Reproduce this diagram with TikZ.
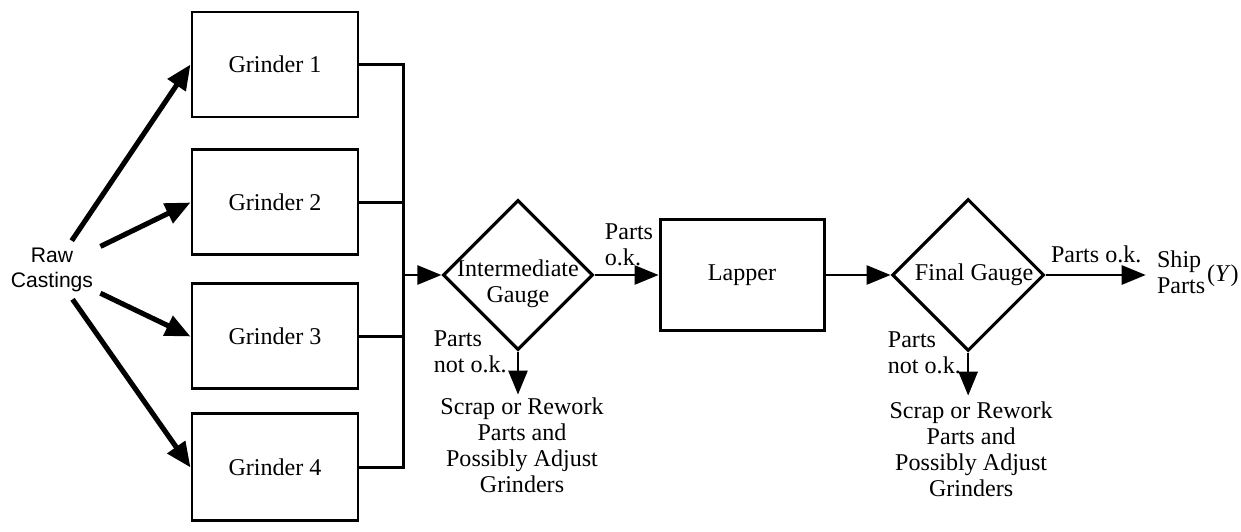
\documentclass[tikz,border=0pt]{standalone}
\usepackage{fontspec}
\setmainfont{Liberation Serif}
\newfontfamily\rawfont{Liberation Sans}
\usepackage{tikz}
\usetikzlibrary{shapes.geometric, arrows.meta, positioning}
\tikzstyle{arrow} = [line width=1.5pt, -{Triangle[length=0.48cm, width=0.38cm]}]
\tikzstyle{feed} = [line width=2.9pt, -{Triangle[length=0.5cm, width=0.42cm]}]
\tikzstyle{bus} = [line width=1.5pt]
\tikzstyle{grinder} = [rectangle, draw=black, line width=1.7pt, minimum width=3.32cm, minimum height=2.1cm]
\tikzstyle{gauge} = [diamond, draw=black, line width=1.8pt, inner sep=0pt, minimum width=3cm, minimum height=3cm]
\tikzstyle{note} = [inner sep=0pt, align=left]

\begin{document}
\begin{tikzpicture}[font=\fontsize{13.7}{14.8}\selectfont]
    \useasboundingbox (0,0) rectangle (24.82,-10.62);
    % Grinders
    \node[grinder] (g1) at (5.5,-1.29) {Grinder 1};
    \node[grinder, below=0.6cm of g1] (g2) {Grinder 2};
    \node[grinder, below=0.52cm of g2] (g3) {Grinder 3};
    \node[grinder, below=0.44cm of g3, minimum height=2.14cm] (g4) {Grinder 4};
    
    % Raw material
    \node[align=center, inner sep=4pt, font=\rawfont\fontsize{12}{14.2}\selectfont] (raw) at (1.04,-5.4) {Raw\\Castings};
    \foreach \g in {g1, g2, g3, g4}
        \draw[feed] (raw) -- (\g.west);
    
    % Gauges and lapper
    \node[gauge, label={[align=center, yshift=-0.18cm]center:Intermediate\\Gauge}] (igauge) at (10.36,-5.5) {};
    \node[grinder, minimum width=3.28cm, minimum height=2.22cm, right=1.28cm of igauge] (lapper) {Lapper};
    \node[gauge, minimum width=3.04cm, minimum height=3.04cm, right=1.3cm of lapper, label={[xshift=0.12cm]center:Final Gauge}] (fgauge) {};
    
    % Collecting line
    \coordinate[left=0.76cm of igauge.west] (join);
    \foreach \g in {g1, g2, g3, g4}
        \draw[bus] (\g.east) -| (join);
    \draw[arrow] (join) -- (igauge.west);
    
    \draw[arrow] (igauge.east) -- (lapper.west);
    \node[note, above right=0.18cm and 0.2cm of igauge.east] (iok) {Parts\\o.k.};
    \draw[arrow] (lapper.east) -- (fgauge.west);
    
    % Rejects
    \coordinate[below=0.86cm of igauge.south] (iend);
    \draw[arrow] (igauge.south) -- (iend);
    \node[note, left=0.22cm of igauge.south] (inot) {Parts\\not o.k.};
    \node[inner sep=0pt, align=center, below=0.06cm of iend, xshift=0.08cm] (iscrap) {Scrap or Rework\\Parts and\\Possibly Adjust\\Grinders};
    
    \coordinate[below=0.86cm of fgauge.south] (fend);
    \draw[arrow] (fgauge.south) -- (fend);
    \node[note, left=0.14cm of fgauge.south] (fnot) {Parts\\not o.k.};
    \node[inner sep=0pt, align=center, below=0.12cm of fend, xshift=0.06cm] (fscrap) {Scrap or Rework\\Parts and\\Possibly Adjust\\Grinders};
    
    % Shipping
    \coordinate[right=2cm of fgauge.east] (shipend);
    \draw[arrow] (fgauge.east) -- (shipend);
    \node[note, above right=0.24cm and 0.1cm of fgauge.east] (fok) {Parts o.k.};
    \node[inner sep=0pt, right=0.22cm of shipend] (ship) {\begin{tabular}{@{}l@{}}Ship\\Parts\end{tabular}\kern1pt(\textit{Y})};
\end{tikzpicture}
\end{document}
